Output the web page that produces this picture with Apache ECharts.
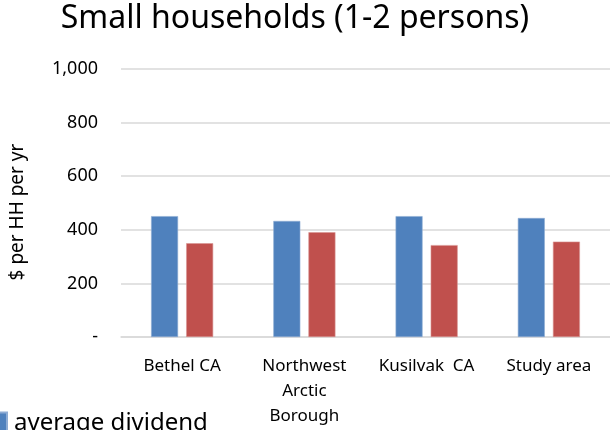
<!DOCTYPE html>
<html>
<head>
<meta charset="utf-8">
<script src="https://cdn.jsdelivr.net/npm/echarts@6/dist/echarts.min.js"></script>
<style>
  html, body { margin: 0; padding: 0; background: #fff; }
  #chart { width: 610px; height: 430px; }
</style>
</head>
<body>
<div id="chart"></div>
<script>
// data
const categories = ['Bethel CA', 'Northwest\nArctic\nBorough', 'Kusilvak  CA', 'Study area']
const dividend = [451, 433, 451, 444]
const otherIncome = [350, 391, 343, 356]
const seriesNames = ['average dividend', 'other income']
const yTicks = [0, 200, 400, 600, 800, 1000]

const font = '"Noto Sans", sans-serif'

const myChart = echarts.init(document.getElementById('chart'))

const option = {
  animation: false,
  title: {
    text: 'Small households (1-2 persons)',
    left: 290,
    textAlign: 'center',
    top: -2,
    textStyle: { fontFamily: font, fontSize: 32, fontWeight: 'normal', color: '#000' }
  },
  // only the first entry fits in the frame, the rest falls below the bottom edge
  legend: {
    left: -8,
    top: 411,
    padding: 0,
    itemWidth: 14,
    itemHeight: 21,
    icon: 'rect',
    data: [seriesNames[0]],
    textStyle: { fontFamily: font, fontSize: 24, color: '#000', padding: [0, 0, 0, 2] }
  },
  grid: {
    left: 121,
    right: -11,
    top: 69,
    bottom: 93
  },
  xAxis: {
    type: 'category',
    data: categories,
    axisTick: { show: false },
    axisLine: { lineStyle: { color: '#d9d9d9', width: 1.5 } },
    axisLabel: {
      interval: 0,
      hideOverlap: false,
      fontFamily: font,
      fontSize: 17,
      color: '#000',
      margin: 17,
      lineHeight: 25
    }
  },
  yAxis: {
    type: 'value',
    min: yTicks[0],
    max: yTicks[yTicks.length - 1],
    interval: 200,
    name: '$ per HH per yr',
    nameLocation: 'middle',
    nameGap: 94,
    nameTextStyle: { fontFamily: font, fontSize: 19, color: '#000', padding: [0, 18, 0, 0] },
    axisLine: { show: false },
    axisTick: { show: false },
    splitLine: { lineStyle: { color: '#d9d9d9', width: 1.5 } },
    axisLabel: {
      fontFamily: font,
      fontSize: 18,
      color: '#000',
      margin: 23,
      formatter: v => v === 0 ? '-' : v.toLocaleString('en-US')
    }
  },
  series: [
    {
      name: seriesNames[0],
      type: 'bar',
      data: dividend,
      barWidth: 27,
      barGap: '30%',
      itemStyle: { color: '#4F81BD', borderColor: '#8eacd4', borderWidth: 0.6 }
    },
    {
      name: seriesNames[1],
      type: 'bar',
      data: otherIncome,
      barWidth: 27,
      barGap: '30%',
      itemStyle: { color: '#C0504D', borderColor: '#d99593', borderWidth: 0.6 }
    }
  ]
}

myChart.setOption(option)
</script>
</body>
</html>
